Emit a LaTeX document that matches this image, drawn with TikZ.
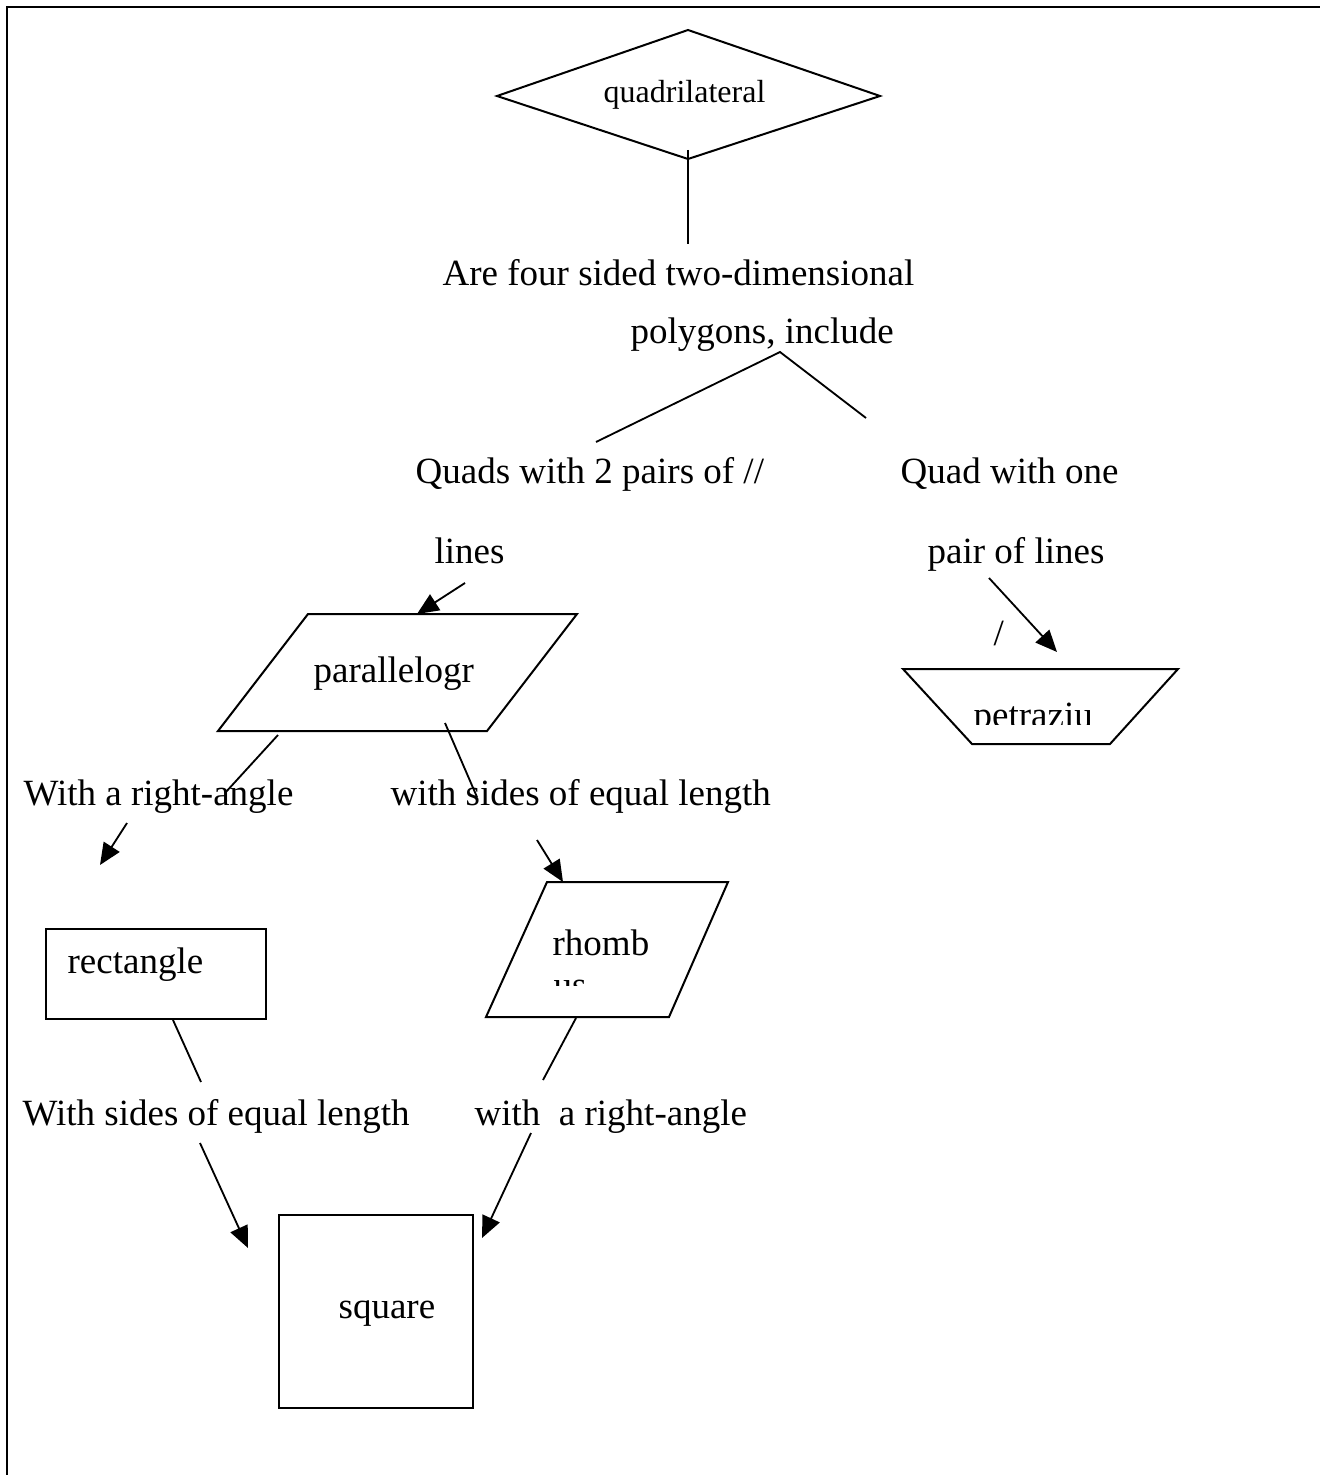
\documentclass[tikz,border=0pt]{standalone}
\usepackage{fontspec}
\setmainfont{Liberation Serif}
\usetikzlibrary{arrows.meta}

\tikzset{
  lbl/.style={inner sep=0pt,anchor=base west,font=\fontsize{11.1}{13.3}\selectfont},
  shapeline/.style={line width=0.6pt},
  conn/.style={line width=0.55pt},
  arr/.style={conn,-{Triangle[length=6.5pt,width=5.6pt]}},
}

\begin{document}
\begin{tikzpicture}[x=0.3pt,y=-0.3pt]
\useasboundingbox (0,0) rectangle (1320,1475);
% frame (only the top and left edges fall inside the page)
\draw[line width=0.7pt] (7,1480) -- (7,7) -- (1325,7);

% shapes
\draw[shapeline] (497,96) -- (688,30) -- (880,96) -- (688,159) -- cycle;
\draw[shapeline] (308,614) -- (577,614) -- (487,731) -- (218,731) -- cycle;
\draw[shapeline] (903,669) -- (1178,669) -- (1110,744) -- (972,744) -- cycle;
\draw[shapeline] (46,929) rectangle (266,1019);
\draw[shapeline] (547,882) -- (728,882) -- (669,1017) -- (486,1017) -- cycle;
\draw[shapeline] (279,1215) rectangle (473,1408);

% texts
\node[lbl,font=\fontsize{9.6}{11.5}\selectfont] (quad) at (603,103) {quadrilateral};
\node[lbl] (defn) at (442,285) {Are four sided two-dimensional};
\node[lbl] (defnb) at (630,343) {polygons, include};
\node[lbl] (twopairs) at (415,483) {Quads with 2 pairs of //};
\node[lbl] (twopairsb) at (434,563) {lines};
\node[lbl] (onepair) at (900,483) {Quad with one};
\node[lbl] (onepairb) at (927,563) {pair of lines};
\node[lbl] (slash) at (993,645) {/};
\node[lbl] (para) at (313,682) {parallelogr};
\begin{scope}
  \clip (960,690) rectangle (1120,724);
  \node[lbl] (trap) at (973,727) {petraziu};
\end{scope}
\node[lbl] (rightang) at (23,805) {With a right-angle};
\node[lbl] (eqsides) at (390,805) {with sides of equal length};
\node[lbl] (rect) at (67,973) {rectangle};
\node[lbl] (rhomb) at (552,955) {rhomb};
\begin{scope}
  \clip (540,960) rectangle (660,985);
  \node[lbl] (rhombb) at (553,997) {us};
\end{scope}
\node[lbl] (eqsidesb) at (22,1125) {With sides of equal length};
\node[lbl] (rightangb) at (474,1125) {with\ \ a right-angle};
\node[lbl] (sq) at (338,1318) {square};

% connector ends
\coordinate (quadfoot) at (688,150);
\coordinate (defntop) at (688,244);
\coordinate (fork) at (780,352);
\coordinate (twopairstop) at (596,442);
\coordinate (onepairtop) at (866,418);
\coordinate (linesfoot) at (465,583);
\coordinate (paratop) at (417,614);
\coordinate (pairfoot) at (989,578);
\coordinate (traptop) at (1057,652);
\coordinate (paraleft) at (278,735);
\coordinate (rightangtop) at (225,793);
\coordinate (pararight) at (445,723);
\coordinate (eqsidestop) at (477,797);
\coordinate (rightangfoot) at (127,823);
\coordinate (recttip) at (100,865);
\coordinate (eqsidesfoot) at (537,840);
\coordinate (rhombtop) at (563,882);
\coordinate (rectfoot) at (173,1020);
\coordinate (eqsidesbtop) at (201,1082);
\coordinate (rhombfoot) at (576,1018);
\coordinate (rightangbtop) at (543,1080);
\coordinate (eqsidesbfoot) at (200,1143);
\coordinate (sqleft) at (248,1248);
\coordinate (rightangbfoot) at (531,1133);
\coordinate (sqright) at (482,1238);

% connectors
\draw[conn] (quadfoot) -- (defntop);
\draw[conn] (twopairstop) -- (fork) -- (onepairtop);
\draw[arr] (linesfoot) -- (paratop);
\draw[arr] (pairfoot) -- (traptop);
\draw[conn] (paraleft) -- (rightangtop);
\draw[conn] (pararight) -- (eqsidestop);
\draw[arr] (rightangfoot) -- (recttip);
\draw[arr] (eqsidesfoot) -- (rhombtop);
\draw[conn] (rectfoot) -- (eqsidesbtop);
\draw[conn] (rhombfoot) -- (rightangbtop);
\draw[arr] (eqsidesbfoot) -- (sqleft);
\draw[arr] (rightangbfoot) -- (sqright);
\end{tikzpicture}
\end{document}
